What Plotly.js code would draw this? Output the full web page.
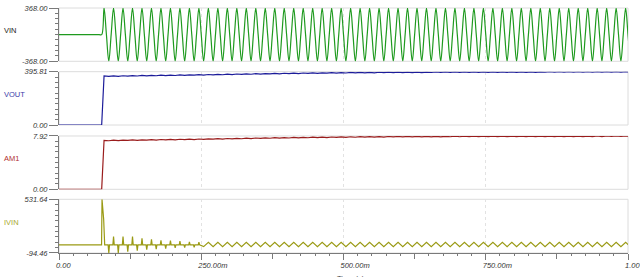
<!DOCTYPE html>
<html>
<head>
<meta charset="utf-8">
<script src="https://cdn.plot.ly/plotly-3.0.1.min.js"></script>
<style>html,body{margin:0;padding:0;background:#fff;}#chart{width:640px;height:277px;}</style>
</head>
<body>
<div id="chart"></div>
<script>
// ---------- data ----------
const panelNames = ['VIN', 'VOUT', 'AM1', 'IVIN'];
const xTickVals = [0, 0.25, 0.5, 0.75, 1];
const xTickText = ['0.00', '250.00m', '500.00m', '750.00m', '1.00'];

// VIN sampled every quarter period (1/240 s) from t = 0
const vinStep = 1 / 240;
const vinValues = [0,0,0,0,0,0,0,0,0,0,0,0,0,0,0,0,0,0,0,
368,0,-368,0,368,0,-368,0,368,0,-368,0,368,0,-368,0,368,0,-368,0,
368,0,-368,0,368,0,-368,0,368,0,-368,0,368,0,-368,0,368,0,-368,0,
368,0,-368,0,368,0,-368,0,368,0,-368,0,368,0,-368,0,368,0,-368,0,
368,0,-368,0,368,0,-368,0,368,0,-368,0,368,0,-368,0,368,0,-368,0,
368,0,-368,0,368,0,-368,0,368,0,-368,0,368,0,-368,0,368,0,-368,0,
368,0,-368,0,368,0,-368,0,368,0,-368,0,368,0,-368,0,368,0,-368,0,
368,0,-368,0,368,0,-368,0,368,0,-368,0,368,0,-368,0,368,0,-368,0,
368,0,-368,0,368,0,-368,0,368,0,-368,0,368,0,-368,0,368,0,-368,0,
368,0,-368,0,368,0,-368,0,368,0,-368,0,368,0,-368,0,368,0,-368,0,
368,0,-368,0,368,0,-368,0,368,0,-368,0,368,0,-368,0,368,0,-368,0,
368,0,-368,0,368,0,-368,0,368,0,-368,0,368,0,-368,0,368,0,-368,0,
368,0,-368];

// Outputs: flat before switch-on, then sampled every half period
const preTimes = [0, 0.075];
const preValues = [0, 0];
const gridStart = 0.0792;
const gridStep = 1 / 120;

const voutValues = [363.8,360.7,364.8,361.7,365.8,362.7,366.8,363.7,367.8,364.7,
368.8,365.7,369.8,366.7,370.8,367.7,371.8,368.7,372.8,369.7,
373.8,370.8,375.0,372.0,376.2,373.2,377.4,374.4,378.6,375.6,
379.8,376.8,381.0,378.0,382.2,379.2,383.3,380.2,384.3,381.2,
385.2,382.0,386.1,382.9,386.9,383.7,387.7,384.5,388.6,385.4,
389.4,386.2,390.1,386.7,390.6,387.2,391.1,387.7,391.6,388.2,
392.1,388.7,392.6,389.2,392.9,389.4,393.1,389.6,393.3,389.9,
393.6,390.1,393.8,390.3,394.0,390.5,394.3,390.8,394.5,391.0,
394.7,391.2,394.8,391.3,394.9,391.3,394.9,391.4,395.0,391.4,
395.1,391.5,395.2,391.6,395.3,391.6,395.3,391.7,395.4,391.7,
395.5,391.8,395.6,391.9,395.7,392.0,395.7,392.1,395.81,392.1,
395.8,392.2];

const am1Values = [7.276,7.214,7.296,7.234,7.316,7.254,7.336,7.274,7.356,7.294,
7.376,7.314,7.396,7.334,7.416,7.354,7.436,7.374,7.456,7.394,
7.476,7.416,7.500,7.440,7.524,7.464,7.548,7.488,7.572,7.512,
7.596,7.536,7.620,7.560,7.644,7.584,7.666,7.604,7.686,7.624,
7.704,7.640,7.722,7.658,7.738,7.674,7.754,7.690,7.772,7.708,
7.788,7.724,7.802,7.734,7.812,7.744,7.822,7.754,7.832,7.764,
7.842,7.774,7.852,7.784,7.858,7.788,7.862,7.792,7.866,7.798,
7.872,7.802,7.876,7.806,7.880,7.810,7.886,7.816,7.890,7.820,
7.894,7.824,7.896,7.826,7.898,7.826,7.898,7.828,7.900,7.828,
7.902,7.830,7.904,7.832,7.906,7.832,7.906,7.834,7.908,7.834,
7.910,7.836,7.912,7.838,7.914,7.840,7.914,7.842,7.916,7.842,
7.916,7.844];

// IVIN: inrush spike, then narrow spikes at each half period, then a steady zigzag
const ivinStartTimes = [0, 0.0748, 0.0756, 0.0770, 0.0785, 0.0803];
const ivinStartValues = [0, 0, 531.64, 420, 300, 0];
const ivinSpikeCount = 20;
const ivinSpikeHalfWidth = 0.0012;
const ivinPeaks = [-94.46,97,-94,97,-79,97,-66,78,-55,66,
-51,54,-43,50,-35,43,-31,35,-28,31,
-20,30,-20,30,-20,30,-20,30,-20,30,-20,30,-20,30,-20,30,-20,30,-20,30,
-20,30,-20,30,-20,30,-20,30,-20,30,-20,30,-20,30,-20,30,-20,30,-20,30,
-20,30,-20,30,-20,30,-20,30,-20,30,-20,30,-20,30,-20,30,-20,30,-20,30,
-20,30,-20,30,-20,30,-20,30,-20,30,-20,30,-20,30,-20,30,-20,30,-20,30,
-20,30,-20,30,-20,30,-20,30,-20,30,-20];

const yMins = [-368, 0, 0, -94.46];
const yMaxs = [368, 395.81, 7.92, 531.64];
const yMinText = ['-368.00', '0.00', '0.00', '-94.46'];
const yMaxText = ['368.00', '395.81', '7.92', '531.64'];

// ---------- styling ----------
const lineColors = ['#1f9a1f', '#1c1c9a', '#9a1c1c', '#9a9a14'];
const labelColors = ['#222222', '#3a3aa8', '#b03030', '#a8a830'];
const axisGray = '#7a7a7a';
const fontFam = '"Liberation Sans", Arial, sans-serif';
const tickFont = {family: fontFam, size: 7.5, color: '#333', style: 'italic'};

// ---------- build traces ----------
function gridTimes(n) { const t = []; for (let k = 0; k < n; k++) t.push(gridStart + k * gridStep); return t; }

const traces = [];
traces.push({x0: 0, dx: vinStep, y: vinValues, type: 'scatter', mode: 'lines',
  line: {color: lineColors[0], width: 1.2, shape: 'spline', smoothing: 1}, xaxis: 'x', yaxis: 'y', hoverinfo: 'skip'});
traces.push({x: preTimes.concat(gridTimes(voutValues.length)), y: preValues.concat(voutValues),
  type: 'scatter', mode: 'lines', line: {color: lineColors[1], width: 1.2}, xaxis: 'x2', yaxis: 'y2'});
traces.push({x: preTimes.concat(gridTimes(am1Values.length)), y: preValues.concat(am1Values),
  type: 'scatter', mode: 'lines', line: {color: lineColors[2], width: 1.2}, xaxis: 'x3', yaxis: 'y3'});

const ix = ivinStartTimes.slice(), iy = ivinStartValues.slice();
ivinPeaks.forEach((a, i) => {
  const k = i + 1;
  const t = gridStart + k * gridStep;
  if (k <= ivinSpikeCount) {
    ix.push(t - ivinSpikeHalfWidth, t, t + ivinSpikeHalfWidth);
    iy.push(0, a, 0);
  } else { ix.push(t); iy.push(a); }
});
traces.push({x: ix, y: iy, type: 'scatter', mode: 'lines', line: {color: lineColors[3], width: 1.2}, xaxis: 'x4', yaxis: 'y4'});
traces.push({x: [], y: [], type: 'scatter', mode: 'lines', xaxis: 'x5', yaxis: 'y4', showlegend: false});

// ---------- layout ----------
const domains = [[0.7824, 1], [0.5224, 0.74], [0.26, 0.4776], [0, 0.2192]];
const layout = {
  width: 640, height: 277,
  margin: {l: 59, r: 12, t: 8, b: 24},
  paper_bgcolor: '#fff', plot_bgcolor: '#fff',
  showlegend: false,
  font: {family: fontFam, size: 7.5, color: '#333'},
  annotations: [], shapes: []
};

for (let i = 0; i < 4; i++) {
  const sfx = i === 0 ? '' : String(i + 1);
  const isBottom = i === 3;
  const xa = {
    domain: [0, 1], anchor: 'y' + sfx, range: [0, 1], zeroline: false,
    showgrid: true, gridcolor: '#e2e2e2', griddash: 'dot', gridwidth: 1,
    tickmode: 'array', tickvals: xTickVals, fixedrange: true, automargin: false
  };
  if (isBottom) {
    Object.assign(xa, {
      ticktext: xTickText, ticks: 'outside', ticklen: 6, tickcolor: axisGray, tickwidth: 1,
      showline: true, linecolor: axisGray, linewidth: 1, tickfont: tickFont,
      ticklabelposition: 'outside right', ticklabelshift: -4, ticklabelstandoff: 5,
      ticklabeloverflow: 'allow',
      minor: {tickmode: 'linear', tick0: 0, dtick: 0.025, ticks: 'outside', ticklen: 2, tickcolor: axisGray, showgrid: false}
    });
  } else {
    Object.assign(xa, {showticklabels: false, ticks: '', showline: false});
  }
  layout['xaxis' + sfx] = xa;

  const span = yMaxs[i] - yMins[i];
  layout['yaxis' + sfx] = {
    domain: domains[i], anchor: 'x' + sfx, range: [yMins[i], yMaxs[i]],
    tickmode: 'array', tickvals: [yMins[i], yMaxs[i]], ticktext: [yMinText[i], yMaxText[i]],
    ticks: 'outside', ticklen: 9, tickcolor: axisGray, tickwidth: 1,
    showline: true, linecolor: axisGray, linewidth: 1,
    showgrid: false, zeroline: false, tickfont: tickFont, fixedrange: true, automargin: false,
    minor: {tickmode: 'linear', tick0: yMins[i], dtick: span / 10, ticks: 'outside', ticklen: 3, tickcolor: axisGray, showgrid: false}
  };

  layout.shapes.push({type: 'rect', xref: 'x' + sfx + ' domain', yref: 'y' + sfx + ' domain',
    x0: 0, x1: 1, y0: 0, y1: 1, line: {color: '#dcdcdc', width: 1}, layer: 'below'});

  layout.annotations.push({text: panelNames[i], xref: 'paper', x: -0.1, xanchor: 'left',
    yref: 'y' + sfx + ' domain', y: 0.57, yanchor: 'middle', showarrow: false,
    font: {family: fontFam, size: 7.5, color: labelColors[i]}});
}

layout.xaxis5 = {overlaying: 'x4', anchor: 'y4', range: [0, 1], tickmode: 'linear', tick0: 0.125, dtick: 0.25,
  ticks: 'outside', ticklen: 5, tickcolor: axisGray, showticklabels: false, showgrid: false,
  zeroline: false, showline: false, side: 'bottom', fixedrange: true};

layout.annotations.push({text: 'Time (s)', xref: 'paper', x: 0.513, xanchor: 'center',
  yref: 'paper', y: -0.077, yanchor: 'top', showarrow: false,
  font: {family: fontFam, size: 7.5, color: '#444'}});

Plotly.newPlot('chart', traces, layout, {displayModeBar: false, staticPlot: true});
</script>
</body>
</html>
